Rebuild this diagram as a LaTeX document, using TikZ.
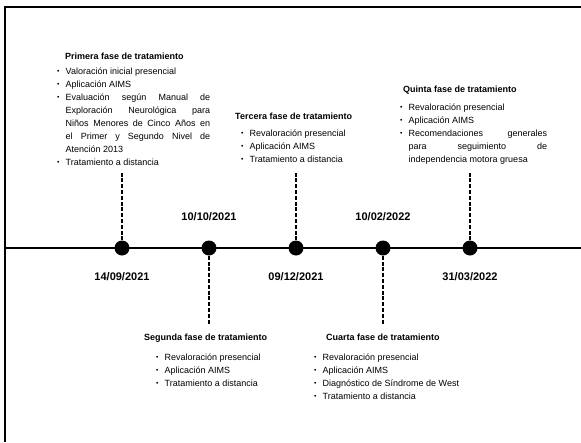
\documentclass[tikz,border=0pt]{standalone}
\usepackage{fontspec}
\setmainfont{Liberation Sans}
\tolerance=10000
\hyphenpenalty=10000
\newcommand{\Marca}{\hangindent=8.5pt\hangafter=1\noindent\makebox[8.5pt][l]{\raisebox{.3pt}{\scalebox{.75}{\textbullet}}}}
\newcommand{\Vineta}{\par\Marca}

\begin{document}
\begin{tikzpicture}[x=1pt,y=-1pt,
  hito/.style={circle,fill=black,inner sep=0pt,minimum size=15pt},
  fecha/.style={font=\fontsize{11}{11}\selectfont\bfseries,inner sep=0pt},
  titulo/.style={font=\fontsize{9}{9}\selectfont\bfseries,inner sep=0pt,anchor=base west},
  lista/.style={font=\fontsize{9}{13}\selectfont,inner sep=0pt,anchor=base west,text width=#1,align=justify},
  guia/.style={line width=2.3pt,dash pattern=on 4pt off 1.8pt},
  eje/.style={line width=2.5pt}]
  \useasboundingbox (0,0) rectangle (581,442);
  \draw[line width=1.8pt] (5,442) -- (5,7) -- (581,7);
  % linea de tiempo
  \coordinate (ini) at (5,248);
  \coordinate (fin) at (581,248);
  \draw[eje] (ini) -- (fin);
  \foreach \i/\xp/\fe/\yf/\ye in {1/122/{14/09/2021}/277/172,2/209/{10/10/2021}/217/325,3/296/{09/12/2021}/277/172,4/383/{10/02/2022}/217/325,5/470/{31/03/2022}/277/172}{
    \node[hito] (d\i) at (\xp,248) {};
    \node[fecha] (f\i) at (\xp,\yf) {\fe};
    \coordinate (e\i) at (\xp,\ye);
    \draw[guia] (d\i) -- (e\i);
  }
  % fases
  \node[titulo] (t1) at (65,59) {Primera fase de tratamiento};
  \node[lista=153pt] (l1) at (57,74) {\Marca Valoración inicial presencial
    \Vineta Aplicación AIMS
    \Vineta Evaluación según Manual de\linebreak Exploración Neurológica para\linebreak Niños Menores de Cinco Años en\linebreak el Primer y Segundo Nivel de\linebreak Atención 2013
    \Vineta Tratamiento a distancia\par};
  \node[titulo] (t2) at (144,340) {Segunda fase de tratamiento};
  \node[lista=130pt] (l2) at (156,360) {\Marca Revaloración presencial
    \Vineta Aplicación AIMS
    \Vineta Tratamiento a distancia\par};
  \node[titulo] (t3) at (235,119) {Tercera fase de tratamiento};
  \node[lista=130pt] (l3) at (241,136) {\Marca Revaloración presencial
    \Vineta Aplicación AIMS
    \Vineta Tratamiento a distancia\par};
  \node[titulo] (t4) at (326,340) {Cuarta fase de tratamiento};
  \node[lista=150pt] (l4) at (314,360) {\Marca Revaloración presencial
    \Vineta Aplicación AIMS
    \Vineta Diagnóstico de Síndrome de West
    \Vineta Tratamiento a distancia\par};
  \node[titulo] (t5) at (403,92) {Quinta fase de tratamiento};
  \node[lista=147pt] (l5) at (400,110) {\Marca Revaloración presencial
    \Vineta Aplicación AIMS
    \Vineta Recomendaciones generales\linebreak para seguimiento de\linebreak independencia motora gruesa\par};
\end{tikzpicture}
\end{document}
